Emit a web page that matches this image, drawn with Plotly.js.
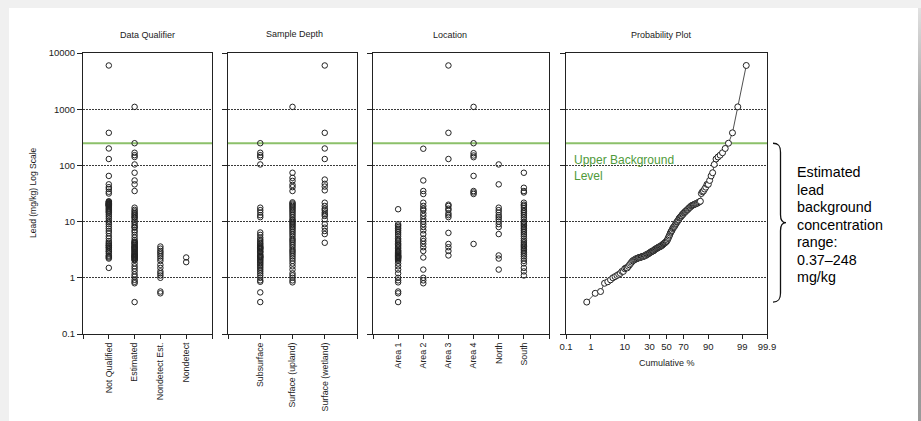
<!DOCTYPE html>
<html>
<head>
<meta charset="utf-8">
<script src="https://cdn.plot.ly/plotly-3.0.1.min.js"></script>
<style>
  html, body { margin: 0; padding: 0; background: #f0f0f0; width: 921px; height: 421px; overflow: hidden; }
  #card { position: absolute; left: 9px; top: 8px; width: 909px; height: 413px; background: #ffffff; }
  #edge { position: absolute; left: 918px; top: 8px; width: 3px; height: 413px;
          background: linear-gradient(#e2e2e2, #a0a0a0 25%, #9a9a9a); }
  #chart { position: absolute; left: 0; top: 0; width: 921px; height: 421px; }
</style>
</head>
<body>
<div id="card"></div>
<div id="edge"></div>
<div id="chart"></div>
<script>
// ---- Lead concentrations (mg/kg) grouped by data qualifier ----
const qualifierCats = ['Not Qualified', 'Estimated', 'Nondetect Est.', 'Nondetect'];
const notQualified = [6000, 380, 200, 130, 65, 46, 41, 38, 34, 31.6, 23, 22.5, 22, 21.4, 21, 20.8, 20.4, 20, 19.8, 19.5,
  19.2, 18.8, 18, 17.2, 16.5, 15.8, 15, 14.5, 13.5, 12.5, 11.5, 10.5, 9.8, 9, 8.2, 7.5, 6.8, 6.2, 5.5, 5,
  4.5, 4.2, 4, 3.8, 3.7, 3.5, 3.4, 3.2, 3, 2.9, 2.7, 2.5, 2.4, 2.3, 2.2, 1.5];
const estimated = [1100, 248, 168, 152, 141, 104, 74, 54, 46, 35, 17.7, 16.2, 15.2, 14.2, 13.5, 12.8, 12, 11.8, 10.8, 10,
  9.3, 8.6, 8, 7.8, 7, 6.5, 5.8, 5.2, 4.7, 4.4, 4.3, 4.15, 4.05, 3.9, 3.75, 3.6, 3.55, 3.45, 3.35, 3.25,
  3.15, 3.05, 2.95, 2.85, 2.75, 2.65, 2.6, 2.5, 2.45, 2.4, 2.35, 2.3, 2.25, 2.15, 2.1, 2.05, 1.8, 1.6, 1.45, 1.3,
  1.15, 1.05, 0.92, 0.85, 0.8, 0.37];
const nondetectEst = [3.6, 3.3, 3.0, 2.8, 2.6, 2.4, 2.2, 2.0, 1.7, 1.5, 1.3, 1.2, 1.1, 1.0, 0.57, 0.53];
const nondetect = [2.3, 1.9];

// ---- grouped by sample depth ----
const depthCats = ['Subsurface', 'Surface (upland)', 'Surface (wetland)'];
const subsurface = [248, 168, 152, 141, 104, 17.7, 16, 14.5, 13, 12, 6.4, 5.8, 5.2, 4.8, 4.5, 4.2, 4.0, 3.8, 3.6, 3.5,
  3.4, 3.3, 3.2, 3.0, 2.9, 2.8, 2.6, 2.5, 2.4, 2.35, 2.3, 2.2, 2.1, 2.0, 1.9, 1.8, 1.7, 1.6, 1.5, 1.4,
  1.3, 1.2, 1.1, 1.0, 0.9, 0.85, 0.55, 0.37];
const upland = [1100, 74, 60, 53, 45, 41, 35, 22, 21, 20, 19, 18, 17, 16, 15, 14, 13, 12, 11, 10.5,
  10, 9.5, 9, 8.5, 8, 7.5, 7, 6.5, 6, 5.5, 5, 4.7, 4.4, 4.1, 3.8, 3.5, 3.2, 3, 2.8, 2.6,
  2.4, 2.2, 2, 1.8, 1.6, 1.4, 1.2, 1.1, 1.0, 0.9, 0.83];
const wetland = [6000, 380, 200, 130, 56, 47, 42, 36, 21.7, 19, 17, 16, 14.5, 13.5, 12.6, 11, 9, 7.8, 6.8, 6.0, 4.2];

// ---- grouped by location ----
const locationCats = ['Area 1', 'Area 2', 'Area 3', 'Area 4', 'North', 'South'];
const area1 = [16.6, 9, 8.5, 8, 7.5, 7, 6.5, 6, 5.5, 5, 4.7, 4.4, 4.1, 3.9, 3.7, 3.5, 3.3, 3.1, 3, 2.9,
  2.8, 2.7, 2.6, 2.5, 2.45, 2.4, 2.35, 2.3, 2.25, 2.2, 2.1, 2.0, 1.8, 1.6, 1.4, 1.2, 1.0, 0.9, 0.83, 0.57,
  0.53, 0.37];
const area2 = [198, 54, 35, 31, 21.7, 19, 17, 16, 14, 12.5, 11, 10, 9, 8, 7, 6, 5, 4.5, 4, 3.5, 3, 2.3, 1.4, 1.0, 0.9, 0.8];
const area3 = [6000, 380, 130, 20, 19, 17, 16, 14, 13, 12, 6.3, 4.0, 3.5, 3.0, 2.5];
const area4 = [1100, 248, 165, 150, 140, 65, 35, 33, 31, 4.0];
const north = [104, 46, 17.7, 16, 14.5, 13, 12, 11, 10, 9, 8, 6, 2.5, 2.2, 1.4];
const south = [74, 40, 35, 33, 21.7, 20, 19, 17.5, 16, 15, 14, 13, 12, 11, 10, 9.5, 9, 8.5, 8, 7.5,
  7, 6.5, 6, 5.5, 5, 4.6, 4.3, 4, 3.8, 3.6, 3.4, 3.2, 3, 2.8, 2.6, 2.4, 2.2, 2, 1.8, 1.5, 1.3, 1.1];

// ---- reference levels and axis labels ----
const upperBackground = 248;
const rangeLow = 0.37;
const yTickVals = [0.1, 1, 10, 100, 1000, 10000];
const yTickText = ['0.1', '1', '10', '100', '1000', '10000'];
const probTickPct = [0.1, 1, 10, 30, 50, 70, 90, 99, 99.9];
const probTickText = ['0.1', '1', '10', '30', '50', '70', '90', '99', '99.9'];
const rangeNoteLines = ['Estimated', 'lead', 'background', 'concentration', 'range:', '0.37\u2013248', 'mg/kg'];

// ---- helpers ----
// Inverse standard normal CDF (Acklam) for the probability-scale axis.
function invNorm(p) {
  const a = [-3.969683028665376e+01, 2.209460984245205e+02, -2.759285104469687e+02, 1.383577518672690e+02, -3.066479806614716e+01, 2.506628277459239e+00];
  const b = [-5.447609879822406e+01, 1.615858368580409e+02, -1.556989798598866e+02, 6.680131188771972e+01, -1.328068155288572e+01];
  const c = [-7.784894002430293e-03, -3.223964580411365e-01, -2.400758277161838e+00, -2.549732539343734e+00, 4.374664141464968e+00, 2.938163982698783e+00];
  const d = [7.784695709041462e-03, 3.224671290700398e-01, 2.445134137142996e+00, 3.754408661907416e+00];
  const pl = 0.02425, ph = 1 - pl;
  let q, r;
  if (p < pl) {
    q = Math.sqrt(-2 * Math.log(p));
    return (((((c[0]*q+c[1])*q+c[2])*q+c[3])*q+c[4])*q+c[5]) / ((((d[0]*q+d[1])*q+d[2])*q+d[3])*q+1);
  }
  if (p <= ph) {
    q = p - 0.5; r = q * q;
    return (((((a[0]*r+a[1])*r+a[2])*r+a[3])*r+a[4])*r+a[5])*q / (((((b[0]*r+b[1])*r+b[2])*r+b[3])*r+b[4])*r+1);
  }
  q = Math.sqrt(-2 * Math.log(1 - p));
  return -(((((c[0]*q+c[1])*q+c[2])*q+c[3])*q+c[4])*q+c[5]) / ((((d[0]*q+d[1])*q+d[2])*q+d[3])*q+1);
}

const W = 921, H = 421;
const px = v => v / W;            // pixel x -> paper x (zero margins)
const py = v => 1 - v / H;        // pixel y -> paper y
const yDomain = [py(334), py(53)];
const xDomains = [[px(83), px(212)], [px(228), px(357)], [px(373), px(549)], [px(566), px(767)]];
const yLogRange = [-1, 4];
// data value -> paper y on the shared log axis
const valToPaperY = v => yDomain[0] + (Math.log10(v) - yLogRange[0]) / (yLogRange[1] - yLogRange[0]) * (yDomain[1] - yDomain[0]);

const INK = '#222222';
const GREEN_LINE = '#8cc06a';
const GREEN_TEXT = '#4f9a3a';
const FONT = 'Liberation Sans, Arial, Helvetica, sans-serif';

const stripMarker = { symbol: 'circle-open', size: 5.5, color: INK, line: { width: 1, color: INK } };

function stripTraces(cats, groups, axisIdx) {
  const sfx = axisIdx === 1 ? '' : String(axisIdx);
  return groups.map((vals, i) => ({
    type: 'scatter', mode: 'markers',
    x: vals.map(() => i), y: vals,
    xaxis: 'x' + sfx, yaxis: 'y' + sfx,
    name: cats[i], marker: stripMarker, hovertemplate: cats[i] + ': %{y} mg/kg<extra></extra>',
    showlegend: false, cliponaxis: false
  }));
}

// Probability plot: all samples ranked, Weibull plotting positions i/(n+1)
const pooled = [].concat(notQualified, estimated, nondetectEst, nondetect).sort((a, b) => a - b);
const nAll = pooled.length;
const probPct = pooled.map((_, i) => 100 * (i + 1) / (nAll + 1));
const probZ = probPct.map(p => invNorm(p / 100));

const traces = [].concat(
  stripTraces(qualifierCats, [notQualified, estimated, nondetectEst, nondetect], 1),
  stripTraces(depthCats, [subsurface, upland, wetland], 2),
  stripTraces(locationCats, [area1, area2, area3, area4, north, south], 3),
  [{
    type: 'scatter', mode: 'lines+markers', x: probZ, y: pooled, xaxis: 'x4', yaxis: 'y4',
    customdata: probPct,
    line: { color: INK, width: 0.8 },
    marker: { symbol: 'circle', size: 6, color: '#ffffff', line: { width: 1, color: INK } },
    hovertemplate: '%{customdata:.1f}%: %{y} mg/kg<extra></extra>', showlegend: false
  }]
);

const tickFont = { family: FONT, size: 9.5, color: INK };
const catFont = { family: FONT, size: 8.8, color: INK };

function yAxis(i) {
  return {
    type: 'log', range: yLogRange, domain: yDomain, anchor: i === 1 ? 'x' : 'x' + i,
    tickvals: yTickVals, ticktext: yTickText, showticklabels: i === 1,
    ticks: 'outside', ticklen: 5, tickwidth: 1, tickcolor: INK, tickfont: tickFont,
    showline: true, mirror: true, linecolor: INK, linewidth: 1,
    showgrid: true, gridcolor: '#3a3a3a', gridwidth: 1, griddash: '1.5px,1.5px',
    zeroline: false, fixedrange: true
  };
}
function catAxis(i, cats) {
  const vals = [-1].concat(cats.map((_, k) => k), [cats.length]);
  const text = [''].concat(cats, ['']);
  return {
    type: 'linear', range: [-1, cats.length], domain: xDomains[i - 1], anchor: i === 1 ? 'y' : 'y' + i,
    tickvals: vals, ticktext: text, tickangle: -90,
    ticks: 'outside', ticklen: 4, tickwidth: 1, tickcolor: INK, tickfont: catFont,
    showline: true, mirror: true, linecolor: INK, linewidth: 1,
    showgrid: false, zeroline: false, fixedrange: true
  };
}

const probAxis = {
  type: 'linear', range: [invNorm(0.001), invNorm(0.999)], domain: xDomains[3], anchor: 'y4',
  tickvals: probTickPct.map(p => invNorm(p / 100)), ticktext: probTickText, tickangle: 0,
  ticks: 'outside', ticklen: 4, tickwidth: 1, tickcolor: INK, tickfont: tickFont,
  showline: true, mirror: true, linecolor: INK, linewidth: 1,
  showgrid: false, zeroline: false, fixedrange: true
};

// Upper background level line in each panel
const shapes = [1, 2, 3, 4].map(i => ({
  type: 'line', layer: 'below',
  xref: (i === 1 ? 'x' : 'x' + i) + ' domain', x0: 0, x1: 1,
  yref: i === 1 ? 'y' : 'y' + i, y0: upperBackground, y1: upperBackground,
  line: { color: GREEN_LINE, width: 2 }
}));

// Curly brace spanning the estimated background range
const yT = valToPaperY(upperBackground), yB = valToPaperY(rangeLow);
const yM = (yT + yB) / 2;
const dy = v => v / H;
const bx0 = px(773), bx1 = px(780.5), bx2 = px(786);
const bracePath = [
  `M ${bx0},${yT}`,
  `C ${px(778)},${yT} ${bx1},${yT - dy(2)} ${bx1},${yT - dy(9)}`,
  `L ${bx1},${yM + dy(8)}`,
  `C ${bx1},${yM + dy(3)} ${px(782)},${yM} ${bx2},${yM}`,
  `C ${px(782)},${yM} ${bx1},${yM - dy(3)} ${bx1},${yM - dy(8)}`,
  `L ${bx1},${yB + dy(9)}`,
  `C ${bx1},${yB + dy(2)} ${px(778)},${yB} ${bx0},${yB}`
].join(' ');
shapes.push({ type: 'path', xref: 'paper', yref: 'paper', path: bracePath, line: { color: '#111111', width: 1.3 } });

const titleFont = { family: FONT, size: 9, color: INK };
const annotations = [
  { text: 'Data Qualifier', x: px(147), y: py(35.5) },
  { text: 'Sample Depth', x: px(294), y: py(34) },
  { text: 'Location', x: px(449.5), y: py(35.5) },
  { text: 'Probability Plot', x: px(661), y: py(35.5) }
].map(a => Object.assign(a, { xref: 'paper', yref: 'paper', xanchor: 'center', yanchor: 'middle', showarrow: false, font: titleFont }));

annotations.push(
  { text: 'Lead (mg/kg) Log Scale', x: px(33), y: py(193), xref: 'paper', yref: 'paper', textangle: -90,
    xanchor: 'center', yanchor: 'middle', showarrow: false, font: { family: FONT, size: 8.5, color: INK } },
  { text: 'Cumulative %', x: px(666.5), y: py(363), xref: 'paper', yref: 'paper',
    xanchor: 'center', yanchor: 'middle', showarrow: false, font: { family: FONT, size: 9, color: INK } },
  { text: 'Upper Background<br>Level', x: px(572), y: py(168), xref: 'paper', yref: 'paper', align: 'left',
    xanchor: 'left', yanchor: 'middle', showarrow: false, font: { family: FONT, size: 12, color: GREEN_TEXT } }
);
// Range note beside the brace, one line at a time for even spacing
rangeNoteLines.forEach((line, k) => annotations.push({
  text: line, x: px(795), y: py(172 + k * 17.5), xref: 'paper', yref: 'paper',
  xanchor: 'left', yanchor: 'middle', showarrow: false, font: { family: FONT, size: 14.3, color: '#000000' }
}));

const layout = {
  width: W, height: H,
  margin: { l: 0, r: 0, t: 0, b: 0, pad: 0 },
  paper_bgcolor: 'rgba(0,0,0,0)', plot_bgcolor: 'rgba(0,0,0,0)',
  font: { family: FONT, color: INK },
  showlegend: false,
  xaxis: catAxis(1, qualifierCats), yaxis: yAxis(1),
  xaxis2: catAxis(2, depthCats), yaxis2: yAxis(2),
  xaxis3: catAxis(3, locationCats), yaxis3: yAxis(3),
  xaxis4: probAxis, yaxis4: yAxis(4),
  shapes: shapes, annotations: annotations
};

Plotly.newPlot('chart', traces, layout, { displayModeBar: false, responsive: false });
</script>
</body>
</html>
